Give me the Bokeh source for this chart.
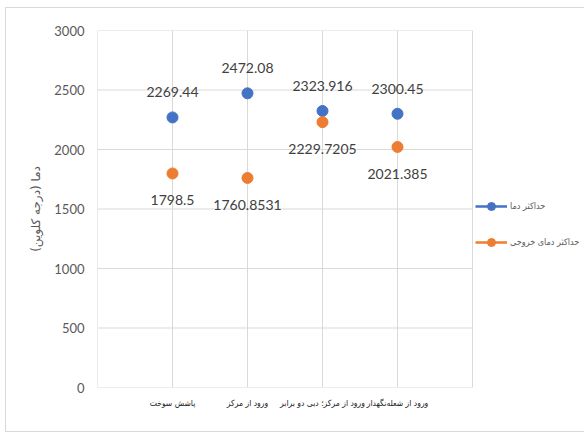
from bokeh.plotting import figure
from bokeh.models import ColumnDataSource, FixedTicker, Legend, LegendItem, Range1d
from bokeh.core.properties import value
from bokeh.embed import file_html
from bokeh.resources import INLINE

categories = ["پاشش سوخت", "ورود از مرکز", "ورود از مرکز؛ دبی دو برابر", "ورود از شعله‌نگهدار"]
max_temp = [2269.44, 2472.08, 2323.916, 2300.45]
max_temp_labels = ["2269.44", "2472.08", "2323.916", "2300.45"]
exit_temp = [1798.5, 1760.8531, 2229.7205, 2021.385]
exit_temp_labels = ["1798.5", "1760.8531", "2229.7205", "2021.385"]
series_names = ["حداکثر دما", "حداکثر دمای خروجی"]
y_ticks = [0, 500, 1000, 1500, 2000, 2500, 3000]

n = len(categories)
xs = list(range(1, n + 1))
x_bounds = list(range(0, n + 2))          # vertical grid / plot-area edges
src1 = ColumnDataSource(dict(x=xs, y=max_temp, t=max_temp_labels))
src2 = ColumnDataSource(dict(x=xs, y=exit_temp, t=exit_temp_labels))

# layout constants (pixels)
FIG_W, FIG_H = 579, 425
LEFT, TOP, BOTTOM, RIGHT = 91, 22, 46, 0
PLOT_AREA_W = 375                          # width of the visible plot area
frame_w = FIG_W - LEFT - RIGHT
x_end = (n + 1) * frame_w / PLOT_AREA_W   # frame extends under the legend

border = "1px solid #d9d9d9"
p = figure(width=FIG_W, height=FIG_H, output_backend="svg", toolbar_location=None,
           x_range=Range1d(0, x_end), y_range=Range1d(0, 3000),
           min_border_left=LEFT, min_border_right=RIGHT, min_border_top=TOP, min_border_bottom=BOTTOM,
           styles={"border-left": border, "border-top": border, "border-bottom": border,
                   "margin-left": "5px", "margin-top": "7px"})
p.outline_line_color = None
p.grid.grid_line_color = None

grid_col = "#d9d9d9"
p.segment(x0=[0] * len(y_ticks), x1=[n + 1] * len(y_ticks), y0=y_ticks, y1=y_ticks,
          line_color=grid_col, line_width=1)
p.segment(x0=x_bounds, x1=x_bounds, y0=[0] * len(x_bounds), y1=[3000] * len(x_bounds),
          line_color=grid_col, line_width=1)

p.xaxis.ticker = FixedTicker(ticks=xs)
p.xaxis.major_label_overrides = {i + 1: c for i, c in enumerate(categories)}
p.xaxis.axis_line_color = None
p.xaxis.major_tick_line_color = None
p.xaxis.minor_tick_line_color = None
p.xaxis.major_tick_out = 0
p.xaxis.major_label_text_font = "DejaVu Sans Condensed"
p.xaxis.major_label_text_font_size = "8.5px"
p.xaxis.major_label_text_color = "#222222"
p.xaxis.major_label_standoff = 10

p.yaxis.ticker = FixedTicker(ticks=y_ticks)
p.yaxis.axis_line_color = None
p.yaxis.major_tick_line_color = None
p.yaxis.minor_tick_line_color = None
p.yaxis.major_tick_out = 0
p.yaxis.major_label_text_font = "Lato"
p.yaxis.major_label_text_font_size = "13px"
p.yaxis.major_label_text_color = "#595959"
p.yaxis.major_label_standoff = 13
p.yaxis.axis_label = "دما (درجه کلوین)"
p.yaxis.axis_label_text_font = "DejaVu Sans"
p.yaxis.axis_label_text_font_style = "normal"
p.yaxis.axis_label_text_font_size = "12px"
p.yaxis.axis_label_text_color = "#595959"
p.yaxis.axis_label_standoff = 8

blue = "#4472C4"
orange = "#ED7D31"
r1 = p.scatter("x", "y", source=src1, size=11, color=blue)
r2 = p.scatter("x", "y", source=src2, size=11, color=orange)

p.text("x", "y", text="t", source=src1, y_offset=-25, text_align="center", text_baseline="middle",
       text_font=value("Lato"), text_font_size="14px", text_color="#404040")
p.text("x", "y", text="t", source=src2, y_offset=27, text_align="center", text_baseline="middle",
       text_font=value("Lato"), text_font_size="14px", text_color="#404040")

# legend proxies (line part of the legend glyph)
l1 = p.line([1], [max_temp[0]], line_color=blue, line_width=2.5, visible=False)
l2 = p.line([1], [exit_temp[0]], line_color=orange, line_width=2.5, visible=False)
legend = Legend(items=[LegendItem(label=series_names[0], renderers=[l1, r1]),
                       LegendItem(label=series_names[1], renderers=[l2, r2])],
                location=(PLOT_AREA_W + 3, 135), padding=0, margin=0, spacing=16,
                glyph_width=32, glyph_height=20, label_standoff=3,
                label_text_font="DejaVu Sans Condensed", label_text_font_size="9px",
                label_text_color="#595959", border_line_color=None,
                background_fill_alpha=0)
p.add_layout(legend, "center")

open("out.html", "w").write(file_html(p, INLINE))
